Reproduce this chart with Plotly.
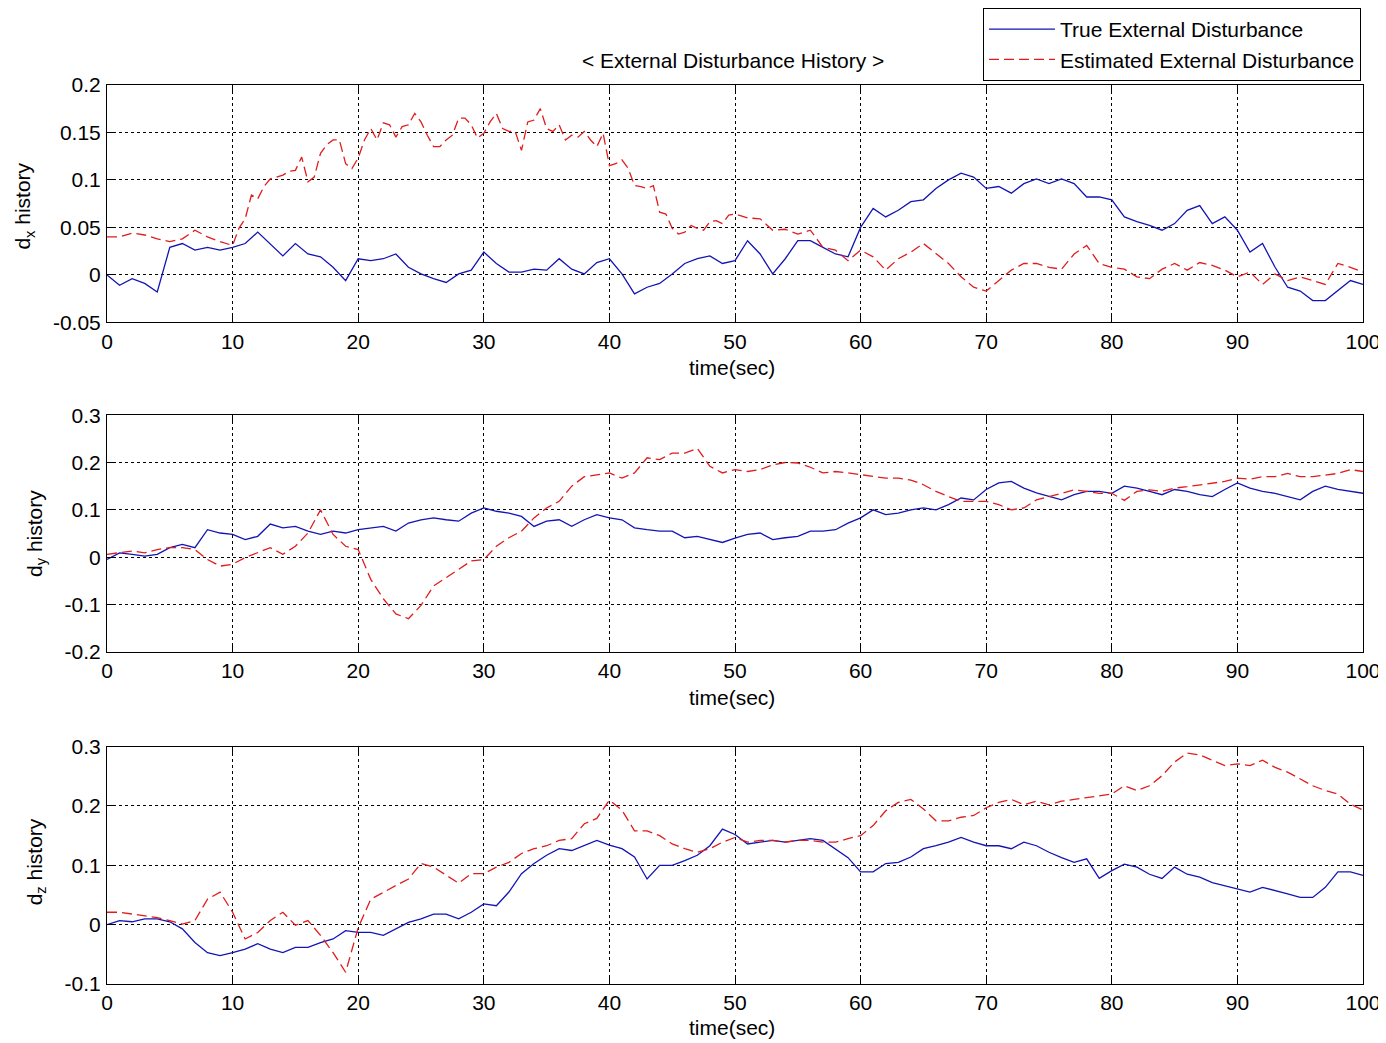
import plotly.graph_objects as go

# ---------------- data ----------------
time_sec = list(range(0, 101))
# estimated d_x was read more finely (every 0.5 s) between 10 s and 50 s
time_dx_est = list(range(0, 10)) + [10 + 0.5 * i for i in range(81)] + list(range(51, 101))

dx_true = [0.0, -0.011, -0.004, -0.009, -0.018, 0.029, 0.033, 0.026, 0.029, 0.026,
           0.029, 0.033, 0.045, 0.033, 0.020, 0.033, 0.022, 0.019, 0.008, -0.006,
           0.017, 0.015, 0.017, 0.022, 0.008, 0.001, -0.004, -0.008, 0.001, 0.005,
           0.024, 0.012, 0.003, 0.003, 0.006, 0.005, 0.017, 0.006, 0.001, 0.013,
           0.017, 0.001, -0.020, -0.013, -0.009, 0.001, 0.012, 0.017, 0.020, 0.012,
           0.015, 0.036, 0.022, 0.001, 0.017, 0.036, 0.036, 0.029, 0.022, 0.019,
           0.050, 0.070, 0.061, 0.068, 0.077, 0.079, 0.091, 0.100, 0.107, 0.103,
           0.091, 0.093, 0.086, 0.096, 0.101, 0.096, 0.101, 0.096, 0.082, 0.082,
           0.079, 0.061, 0.056, 0.052, 0.047, 0.054, 0.068, 0.073, 0.054, 0.061,
           0.047, 0.024, 0.033, 0.008, -0.013, -0.017, -0.027, -0.027, -0.017, -0.006,
           -0.010]

dx_est = [0.040, 0.040, 0.044, 0.042, 0.038, 0.035, 0.038, 0.047, 0.040, 0.035,
          # 10.0 .. 50.0 every 0.5 s
          0.031, 0.049, 0.059, 0.084, 0.080, 0.093, 0.101, 0.103, 0.105, 0.109,
          0.110, 0.124, 0.098, 0.103, 0.128, 0.137, 0.142, 0.142, 0.117, 0.112,
          0.123, 0.142, 0.154, 0.142, 0.160, 0.158, 0.145, 0.156, 0.158, 0.170,
          0.161, 0.147, 0.135, 0.135, 0.142, 0.147, 0.165, 0.165, 0.158, 0.144,
          0.149, 0.161, 0.170, 0.154, 0.151, 0.151, 0.131, 0.161, 0.163, 0.175,
          0.154, 0.151, 0.158, 0.142, 0.147, 0.145, 0.151, 0.142, 0.135, 0.149,
          0.115, 0.117, 0.121, 0.112, 0.094, 0.093, 0.091, 0.094, 0.066, 0.064,
          0.049, 0.043, 0.045, 0.052, 0.049, 0.047, 0.056, 0.057, 0.054, 0.063,
          0.064,
          # 51 .. 100
          0.060, 0.059, 0.047, 0.048, 0.043, 0.047, 0.029, 0.026, 0.015,
          0.026, 0.019, 0.005, 0.017, 0.024, 0.033, 0.022, 0.012, -0.002, -0.013,
          -0.017, -0.006, 0.005, 0.012, 0.012, 0.008, 0.006, 0.022, 0.031, 0.012,
          0.008, 0.006, -0.002, -0.004, 0.006, 0.012, 0.005, 0.013, 0.010, 0.005,
          -0.002, 0.003, -0.010, 0.001, -0.006, -0.002, -0.006, -0.010, 0.012, 0.008,
          0.003]

dy_true = [-0.005, 0.009, 0.006, 0.002, 0.006, 0.020, 0.027, 0.020, 0.058, 0.051,
           0.048, 0.037, 0.044, 0.070, 0.062, 0.065, 0.055, 0.048, 0.055, 0.051,
           0.058, 0.062, 0.065, 0.055, 0.072, 0.079, 0.083, 0.079, 0.076, 0.093,
           0.104, 0.097, 0.093, 0.086, 0.065, 0.076, 0.079, 0.065, 0.079, 0.090,
           0.083, 0.079, 0.062, 0.058, 0.055, 0.055, 0.041, 0.044, 0.037, 0.031,
           0.040, 0.048, 0.051, 0.037, 0.041, 0.044, 0.055, 0.055, 0.058, 0.072,
           0.083, 0.100, 0.090, 0.093, 0.100, 0.104, 0.100, 0.111, 0.125, 0.121,
           0.143, 0.157, 0.160, 0.146, 0.136, 0.128, 0.121, 0.132, 0.139, 0.139,
           0.135, 0.150, 0.146, 0.139, 0.132, 0.143, 0.139, 0.132, 0.128, 0.143,
           0.157, 0.146, 0.139, 0.135, 0.128, 0.121, 0.139, 0.150, 0.143, 0.139,
           0.135]

dy_est = [0.006, 0.009, 0.013, 0.009, 0.016, 0.020, 0.020, 0.016, -0.005, -0.019,
          -0.015, -0.001, 0.009, 0.020, 0.006, 0.023, 0.051, 0.100, 0.048, 0.023,
          0.016, -0.047, -0.088, -0.120, -0.130, -0.102, -0.061, -0.043, -0.026, -0.008,
          -0.005, 0.023, 0.041, 0.055, 0.083, 0.104, 0.118, 0.150, 0.170, 0.174,
          0.178, 0.167, 0.178, 0.210, 0.206, 0.220, 0.220, 0.230, 0.192, 0.178,
          0.185, 0.181, 0.185, 0.195, 0.200, 0.199, 0.190, 0.178, 0.181, 0.178,
          0.174, 0.170, 0.167, 0.167, 0.163, 0.153, 0.139, 0.128, 0.118, 0.118,
          0.118, 0.111, 0.100, 0.104, 0.121, 0.128, 0.135, 0.142, 0.139, 0.135,
          0.135, 0.120, 0.139, 0.142, 0.139, 0.146, 0.149, 0.153, 0.156, 0.160,
          0.167, 0.165, 0.170, 0.170, 0.177, 0.170, 0.170, 0.174, 0.177, 0.185,
          0.181]

dz_true = [0.0, 0.007, 0.005, 0.010, 0.010, 0.005, -0.007, -0.030, -0.047, -0.052,
           -0.047, -0.041, -0.032, -0.041, -0.047, -0.038, -0.038, -0.030, -0.024, -0.010,
           -0.013, -0.013, -0.018, -0.007, 0.004, 0.010, 0.018, 0.018, 0.010, 0.021,
           0.035, 0.032, 0.055, 0.086, 0.103, 0.117, 0.128, 0.125, 0.133, 0.142,
           0.134, 0.128, 0.114, 0.077, 0.100, 0.100, 0.108, 0.117, 0.133, 0.161,
           0.152, 0.136, 0.139, 0.142, 0.139, 0.142, 0.145, 0.142, 0.128, 0.113,
           0.089, 0.089, 0.103, 0.105, 0.114, 0.128, 0.133, 0.139, 0.147, 0.139,
           0.133, 0.133, 0.128, 0.139, 0.133, 0.122, 0.113, 0.105, 0.111, 0.078,
           0.091, 0.102, 0.097, 0.085, 0.078, 0.097, 0.085, 0.080, 0.071, 0.066,
           0.060, 0.055, 0.063, 0.058, 0.052, 0.046, 0.046, 0.063, 0.089, 0.089,
           0.083]

dz_est = [0.021, 0.021, 0.018, 0.015, 0.012, 0.007, 0.001, 0.007, 0.043, 0.055,
          0.021, -0.024, -0.013, 0.007, 0.021, -0.001, 0.007, -0.018, -0.047, -0.080,
          -0.005, 0.043, 0.055, 0.066, 0.077, 0.103, 0.097, 0.083, 0.070, 0.086,
          0.086, 0.097, 0.105, 0.120, 0.128, 0.133, 0.142, 0.145, 0.170, 0.179,
          0.210, 0.193, 0.158, 0.158, 0.150, 0.136, 0.128, 0.122, 0.128, 0.139,
          0.147, 0.139, 0.142, 0.142, 0.139, 0.142, 0.142, 0.139, 0.139, 0.145,
          0.150, 0.167, 0.192, 0.206, 0.211, 0.195, 0.175, 0.175, 0.181, 0.184,
          0.197, 0.206, 0.211, 0.202, 0.208, 0.202, 0.208, 0.211, 0.214, 0.217,
          0.220, 0.234, 0.226, 0.234, 0.251, 0.274, 0.289, 0.286, 0.277, 0.268,
          0.271, 0.268, 0.277, 0.265, 0.257, 0.246, 0.234, 0.226, 0.220, 0.203,
          0.193]

x_ticks = [0, 10, 20, 30, 40, 50, 60, 70, 80, 90, 100]
y1_ticks = [-0.05, 0, 0.05, 0.1, 0.15, 0.2]
y1_labels = ["-0.05", "0", "0.05", "0.1", "0.15", "0.2"]
y2_ticks = [-0.2, -0.1, 0, 0.1, 0.2, 0.3]
y2_labels = ["-0.2", "-0.1", "0", "0.1", "0.2", "0.3"]
y3_ticks = [-0.1, 0, 0.1, 0.2, 0.3]
y3_labels = ["-0.1", "0", "0.1", "0.2", "0.3"]

title_text = "&lt; External Disturbance History &gt;"
name_true = "True External Disturbance"
name_est = "Estimated External Disturbance"

# ---------------- figure ----------------
OFF = 8                      # page body margin in the browser
W, H = 1386 - OFF, 1043 - OFF
BLUE = "#1414b4"
RED = "#e01c1c"
FONT = "Liberation Sans, Arial, sans-serif"
FS = 21


def px(x):
    return (x - OFF) / W


def py(y):
    return 1 - (y - OFF) / H


fig = go.Figure()

series = [
    (time_sec, dx_true, time_dx_est, dx_est, "x", "y"),
    (time_sec, dy_true, time_sec, dy_est, "x2", "y2"),
    (time_sec, dz_true, time_sec, dz_est, "x3", "y3"),
]
for i, (t1, tr, t2, es, xa, ya) in enumerate(series):
    fig.add_trace(go.Scatter(x=t1, y=tr, mode="lines", name=name_true,
                             line=dict(color=BLUE, width=1.3),
                             xaxis=xa, yaxis=ya, showlegend=(i == 0)))
    fig.add_trace(go.Scatter(x=t2, y=es, mode="lines", name=name_est,
                             line=dict(color=RED, width=1.3, dash="10px,5px"),
                             xaxis=xa, yaxis=ya, showlegend=(i == 0)))

xdom = [px(107), px(1363)]
ydoms = [
    [py(321), py(83)],
    [py(651), py(414)],
    [py(984), py(746)],
]
yspecs = [
    ([-0.05, 0.2], y1_ticks, y1_labels),
    ([-0.2, 0.3], y2_ticks, y2_labels),
    ([-0.1, 0.3], y3_ticks, y3_labels),
]

common = dict(
    showline=True, linecolor="black", linewidth=1, mirror="ticks",
    ticks="inside", ticklen=7, tickcolor="black", tickwidth=1,
    showgrid=True, gridcolor="black", gridwidth=1, griddash="dot",
    zeroline=False, automargin=False,
    tickfont=dict(family=FONT, size=FS, color="black"),
)

layout = dict(
    width=W, height=H,
    margin=dict(l=0, r=0, t=0, b=0, pad=0),
    paper_bgcolor="white", plot_bgcolor="white",
    font=dict(family=FONT, size=FS, color="black"),
    legend=dict(x=px(983), y=py(6), xanchor="left", yanchor="top",
                bordercolor="black", borderwidth=1, bgcolor="white",
                font=dict(family=FONT, size=FS, color="black"),
                itemwidth=66, tracegroupgap=0),
)
for k in range(3):
    sx = "" if k == 0 else str(k + 1)
    rng, tv, tt = yspecs[k]
    layout["xaxis" + sx] = dict(common, domain=xdom, range=[0, 100],
                                tickvals=x_ticks, anchor="y" + sx,
                                ticklabelstandoff=0)
    layout["yaxis" + sx] = dict(common, domain=ydoms[k], range=rng,
                                tickvals=tv, ticktext=tt, anchor="x" + sx,
                                ticklabelstandoff=1)
fig.update_layout(**layout)

ann = [
    dict(x=px(733), y=py(59), text=title_text, showarrow=False,
         xref="paper", yref="paper", xanchor="center", yanchor="middle",
         font=dict(family=FONT, size=FS, color="black")),
]
for yy in [366, 697, 1027]:
    ann.append(dict(x=px(732), y=py(yy), text="time(sec)", showarrow=False,
                    xref="paper", yref="paper", xanchor="center", yanchor="middle",
                    font=dict(family=FONT, size=FS, color="black")))
for xx, yy, sub in [(24, 205, "x"), (36, 533, "y"), (36, 862, "z")]:
    ann.append(dict(x=px(xx), y=py(yy), text="d<sub>" + sub + "</sub> history",
                    showarrow=False, textangle=-90,
                    xref="paper", yref="paper", xanchor="center", yanchor="middle",
                    font=dict(family=FONT, size=FS, color="black")))
fig.update_layout(annotations=ann)

fig.write_html("out.html")
